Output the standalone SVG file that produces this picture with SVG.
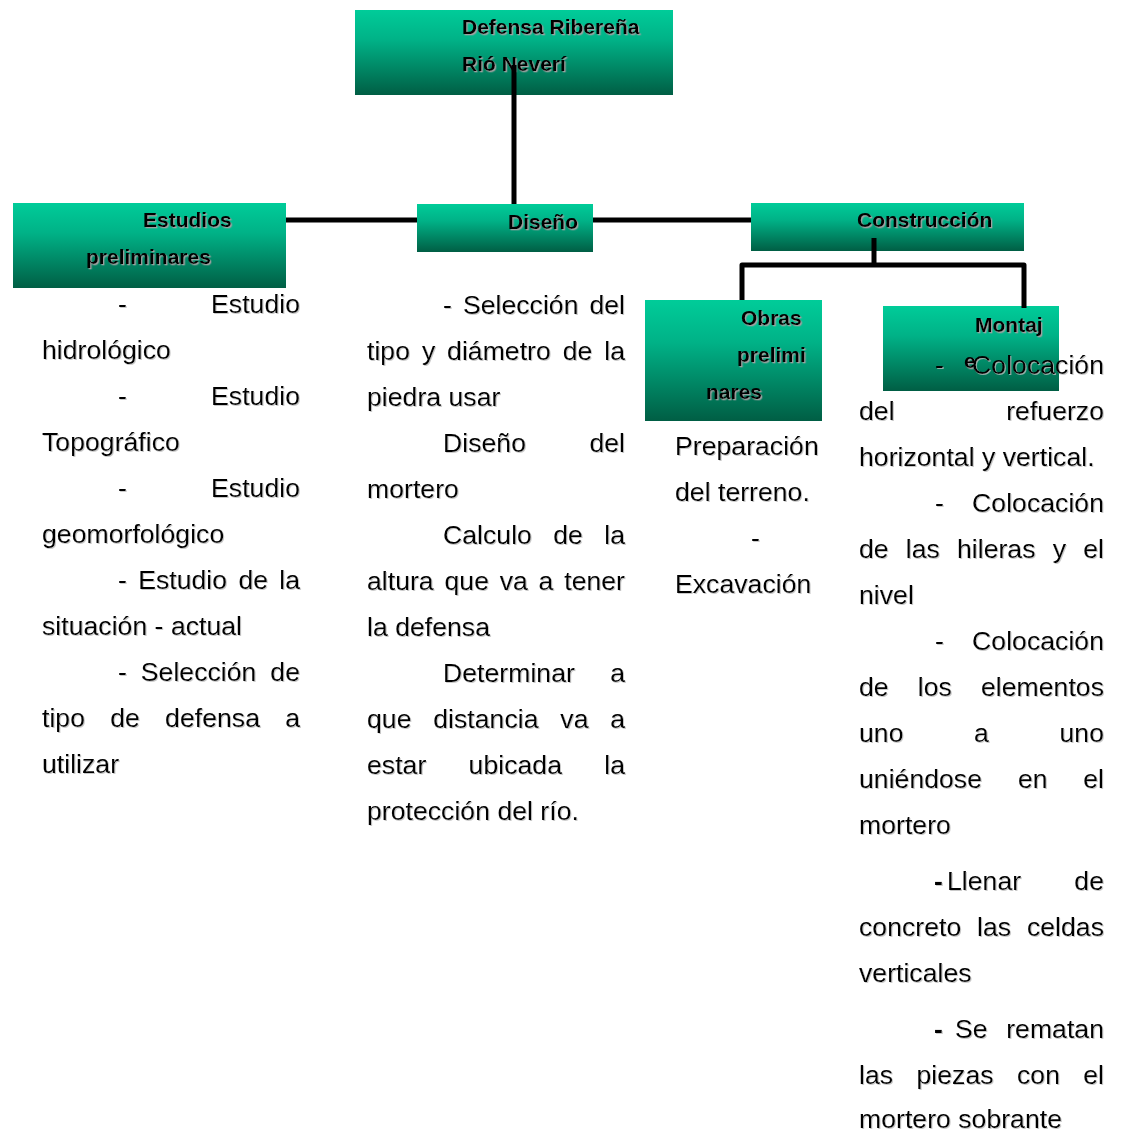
<svg xmlns="http://www.w3.org/2000/svg" width="1124" height="1133" viewBox="0 0 1124 1133">
<defs>
<linearGradient id="g" x1="0" y1="0" x2="0" y2="1">
<stop offset="0" stop-color="#00CC99"/>
<stop offset="0.35" stop-color="#00B287"/>
<stop offset="1" stop-color="#005E44"/>
</linearGradient>
<filter id="sh" x="-5%" y="-20%" width="110%" height="140%">
<feDropShadow dx="1.3" dy="1.3" stdDeviation="0.3" flood-color="#a0a0a0" flood-opacity="1"/>
</filter>
<filter id="sh2" x="-5%" y="-20%" width="110%" height="140%">
<feDropShadow dx="1" dy="1" stdDeviation="0.4" flood-color="#bbbbbb" flood-opacity="0.8"/>
</filter>
</defs>
<style>
.box{fill:url(#g);}
.lbl{font-family:"Liberation Sans",Arial,sans-serif;font-weight:bold;font-size:21px;fill:#000;filter:url(#sh);}
.t{font-family:"Liberation Sans",Arial,sans-serif;font-size:26.67px;fill:#000;filter:url(#sh2);}
.e{text-anchor:end;}
.bd{font-weight:bold;}
.con{stroke:#000;stroke-width:5;fill:none;stroke-linejoin:round;}
</style>
<rect width="1124" height="1133" fill="#fff"/>

<g id="node-defensa">
<rect class="box" x="355" y="10" width="318" height="85"/>
<text class="lbl" x="462" y="34">Defensa Ribereña</text>
<text class="lbl" x="462" y="71">Rió Neverí</text>
</g>
<g id="node-estudios">
<rect class="box" x="13" y="203" width="273" height="85"/>
<text class="lbl" x="143" y="227">Estudios</text>
<text class="lbl" x="86" y="264">preliminares</text>
</g>
<g id="node-diseno">
<rect class="box" x="417" y="204" width="176" height="48"/>
<text class="lbl" x="508" y="229">Diseño</text>
</g>
<g id="node-construccion">
<rect class="box" x="751" y="203" width="273" height="48"/>
<text class="lbl" x="857" y="227">Construcción</text>
</g>
<g id="node-obras">
<rect class="box" x="645" y="300" width="177" height="121"/>
<text class="lbl" x="741" y="325">Obras</text>
<text class="lbl" x="737" y="362">prelimi</text>
<text class="lbl" x="706" y="399">nares</text>
</g>
<g id="node-montaje">
<rect class="box" x="883" y="306" width="176" height="85"/>
<text class="lbl" x="975" y="332">Montaj</text>
<text class="lbl" x="964" y="368" font-size="14">e</text>
</g>

<g id="connectors">
<line class="con" x1="514" y1="65" x2="514" y2="204"/>
<line class="con" x1="286" y1="220" x2="417" y2="220"/>
<line class="con" x1="593" y1="220" x2="751" y2="220"/>
<line class="con" x1="874" y1="238" x2="874" y2="265"/>
<polyline class="con" points="742,300 742,265 1024,265 1024,308"/>
</g>

<g id="text-estudios">
<text class="t" x="118" y="313">-</text><text class="t e" x="300" y="313">Estudio</text>
<text class="t" x="42" y="359">hidrológico</text>
<text class="t" x="118" y="405">-</text><text class="t e" x="300" y="405">Estudio</text>
<text class="t" x="42" y="451">Topográfico</text>
<text class="t" x="118" y="497">-</text><text class="t e" x="300" y="497">Estudio</text>
<text class="t" x="42" y="543">geomorfológico</text>
<text class="t" y="589"><tspan x="118">-</tspan><tspan x="138.2">Estudio</tspan><tspan x="238.4">de</tspan></text><text class="t e" x="300" y="589">la</text>
<text class="t" x="42" y="635">situación - actual</text>
<text class="t" y="681"><tspan x="118">-</tspan><tspan x="140.8">Selección</tspan></text><text class="t e" x="300" y="681">de</text>
<text class="t" y="727"><tspan x="42">tipo</tspan><tspan x="110.2">de</tspan><tspan x="165.1">defensa</tspan></text><text class="t e" x="300" y="727">a</text>
<text class="t" x="42" y="773">utilizar</text>
</g>

<g id="text-diseno">
<text class="t" y="314"><tspan x="443">-</tspan><tspan x="462.9">Selección</tspan></text><text class="t e" x="625" y="314">del</text>
<text class="t" y="360"><tspan x="367">tipo</tspan><tspan x="421.9">y</tspan><tspan x="447.1">diámetro</tspan><tspan x="562.7">de</tspan></text><text class="t e" x="625" y="360">la</text>
<text class="t" x="367" y="406">piedra usar</text>
<text class="t" x="443" y="452">Diseño</text><text class="t e" x="625" y="452">del</text>
<text class="t" x="367" y="498">mortero</text>
<text class="t" y="544"><tspan x="443">Calculo</tspan><tspan x="553.2">de</tspan></text><text class="t e" x="625" y="544">la</text>
<text class="t" y="590"><tspan x="367">altura</tspan><tspan x="444.5">que</tspan><tspan x="499.7">va</tspan><tspan x="538.6">a</tspan></text><text class="t e" x="625" y="590">tener</text>
<text class="t" x="367" y="636">la defensa</text>
<text class="t" x="443" y="682">Determinar</text><text class="t e" x="625" y="682">a</text>
<text class="t" y="728"><tspan x="367">que</tspan><tspan x="433.3">distancia</tspan><tspan x="560.3">va</tspan></text><text class="t e" x="625" y="728">a</text>
<text class="t" y="774"><tspan x="367">estar</tspan><tspan x="468.6">ubicada</tspan></text><text class="t e" x="625" y="774">la</text>
<text class="t" x="367" y="820">protección del río.</text>
</g>

<g id="text-obras">
<text class="t" x="675" y="455">Preparación</text>
<text class="t" x="675" y="501">del terreno.</text>
<text class="t" x="751" y="547">-</text>
<text class="t" x="675" y="593">Excavación</text>
</g>

<g id="text-montaje">
<text class="t" x="935" y="374">-</text><text class="t e" x="1104" y="374">Colocación</text>
<text class="t" x="859" y="420">del</text><text class="t e" x="1104" y="420">refuerzo</text>
<text class="t" x="859" y="466">horizontal y vertical.</text>
<text class="t" x="935" y="512">-</text><text class="t e" x="1104" y="512">Colocación</text>
<text class="t" y="558"><tspan x="859">de</tspan><tspan x="905.8">las</tspan><tspan x="957.0">hileras</tspan><tspan x="1052.7">y</tspan></text><text class="t e" x="1104" y="558">el</text>
<text class="t" x="859" y="604">nivel</text>
<text class="t" x="935" y="650">-</text><text class="t e" x="1104" y="650">Colocación</text>
<text class="t" y="696"><tspan x="859">de</tspan><tspan x="917.8">los</tspan></text><text class="t e" x="1104" y="696">elementos</text>
<text class="t" y="742"><tspan x="859">uno</tspan><tspan x="974.1">a</tspan></text><text class="t e" x="1104" y="742">uno</text>
<text class="t" y="788"><tspan x="859">uniéndose</tspan><tspan x="1017.9">en</tspan></text><text class="t e" x="1104" y="788">el</text>
<text class="t" x="859" y="834">mortero</text>
<text class="t bd" x="934" y="890">-</text><text class="t" x="947" y="890">Llenar</text><text class="t e" x="1104" y="890">de</text>
<text class="t" y="936"><tspan x="859">concreto</tspan><tspan x="977.1">las</tspan></text><text class="t e" x="1104" y="936">celdas</text>
<text class="t" x="859" y="982">verticales</text>
<text class="t bd" x="934" y="1038">-</text><text class="t" x="955" y="1038">Se</text><text class="t e" x="1104" y="1038">rematan</text>
<text class="t" y="1084"><tspan x="859">las</tspan><tspan x="916.5">piezas</tspan><tspan x="1017.0">con</tspan></text><text class="t e" x="1104" y="1084">el</text>
<text class="t" x="859" y="1128">mortero sobrante</text>
</g>
</svg>
